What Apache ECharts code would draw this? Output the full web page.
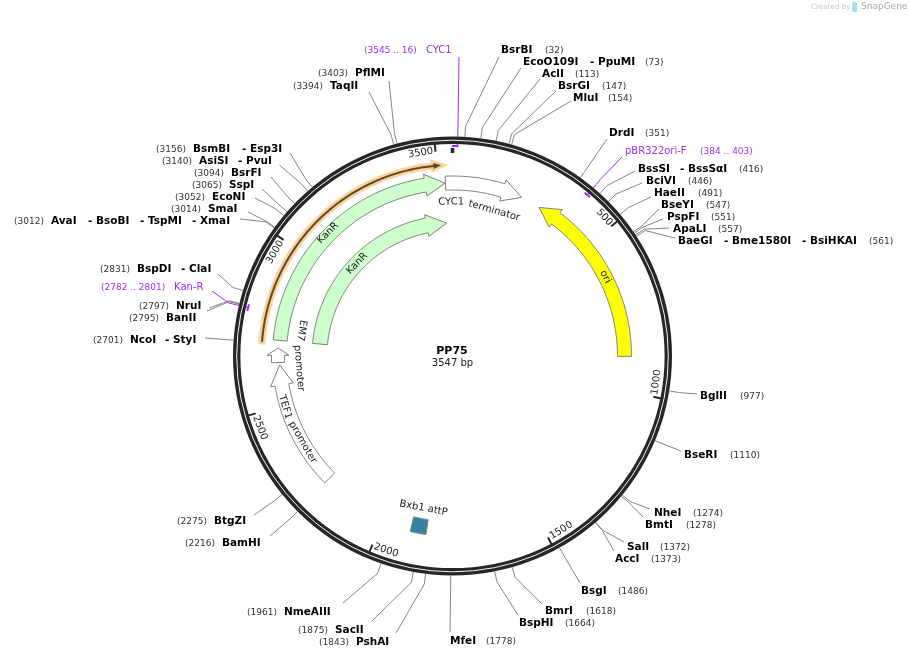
<!DOCTYPE html>
<html>
<head>
<meta charset="utf-8">
<title>PP75</title>
<script src="https://cdn.jsdelivr.net/npm/echarts@6/dist/echarts.min.js"></script>
<style>
html, body { margin: 0; padding: 0; background: #fff; }
#main { width: 909px; height: 658px; }
</style>
</head>
<body>
<div id="main"></div>
<script>
var plasmidName = 'PP75';
var plasmidLength = 3547;

// restriction sites
var siteNames = [
    ['BsrBI'], ['EcoO109I', 'PpuMI'], ['AclI'], ['BsrGI'], ['MluI'], ['DrdI'],
    ['BssSI', 'BssSαI'], ['BciVI'], ['HaeII'], ['BseYI'], ['PspFI'], ['ApaLI'],
    ['BaeGI', 'Bme1580I', 'BsiHKAI'], ['BglII'], ['BseRI'], ['NheI'], ['BmtI'],
    ['SalI'], ['AccI'], ['BsgI'], ['BmrI'], ['BspHI'], ['MfeI'], ['PshAI'],
    ['SacII'], ['NmeAIII'], ['BamHI'], ['BtgZI'], ['NcoI', 'StyI'], ['BanII'],
    ['NruI'], ['BspDI', 'ClaI'], ['AvaI', 'BsoBI', 'TspMI', 'XmaI'], ['SmaI'],
    ['EcoNI'], ['SspI'], ['BsrFI'], ['AsiSI', 'PvuI'], ['BsmBI', 'Esp3I'],
    ['TaqII'], ['PflMI']
];
var sitePositions = [
    32, 73, 113, 147, 154, 351, 416, 446, 491, 547, 551, 557, 561, 977, 1110,
    1274, 1278, 1372, 1373, 1486, 1618, 1664, 1778, 1843, 1875, 1961, 2216,
    2275, 2701, 2795, 2797, 2831, 3012, 3014, 3052, 3065, 3094, 3140, 3156,
    3394, 3403
];

// primers
var primerNames = ['CYC1', 'pBR322ori-F', 'Kan-R'];
var primerStarts = [3545, 384, 2782];
var primerEnds = [16, 403, 2801];

// features
var featureNames = ['ori', 'CYC1 terminator', 'KanR', 'KanR', 'EM7 promoter', 'TEF1 promoter', 'Bxb1 attP'];
var featureStarts = [298, 3524, 2711, 2711, 2639, 2219, 1857];
var featureEnds = [888, 232, 3523, 3522, 2686, 2631, 1907];
var featureStrands = [-1, 1, 1, 1, 1, 1, 0];

// highlighted primer arrow
var highlightStart = 2702;
var highlightEnd = 3514;

// ruler
var tickPositions = [500, 1000, 1500, 2000, 2500, 3000, 3500];
var tickLabels = ['500', '1000', '1500', '2000', '2500', '3000', '3500'];

// ---- layout only below here ----
var center = [452.5, 356];
var ringOuter = 219.5;
var elbowR = 230;
var fontName = '"DejaVu Sans", sans-serif';
var purple = '#a32cf2';
var lineGrey = '#858585';

// y, x of "(pos)", x of each name, leader end x, y
var siteLayout = [
    [50, 545, [501], 499, 57], [62, 645, [523, 590], 521, 68], [74, 575, [542], 540, 79],
    [86, 602, [558], 556, 91], [98, 608, [573], 571, 101], [133, 645, [609], 607, 139],
    [169, 739, [638, 680], 635, 171], [181, 688, [646], 642, 183], [193, 698, [654], 651, 197],
    [205, 706, [661], 659, 209], [217, 711, [667], 663, 219], [229, 718, [673], 669, 228],
    [241, 869, [678, 724, 802], 675, 238], [396, 740, [700], 697, 394], [455, 730, [684], 681, 451],
    [513, 693, [654], 650, 509], [525, 686, [645], 643, 517], [547, 660, [627], 624, 542],
    [559, 651, [615], 614, 551], [591, 618, [581], 580, 583], [611, 586, [545], 542, 604],
    [623, 565, [519], 518, 615], [641, 486, [450], 450, 632], [642, 319, [356], 396, 633],
    [630, 298, [335], 372, 621], [612, 247, [284], 343, 603], [543, 185, [222], 270, 536],
    [521, 177, [214], 254, 515], [340, 93, [130, 165], 205, 338], [318, 129, [166], 207, 311],
    [306, 139, [176], 209, 308], [269, 100, [137, 181], 218, 274],
    [221, 14, [51, 88, 140, 192], 240, 219], [209, 171, [208], 248, 212], [197, 175, [212], 255, 198],
    [185, 192, [229], 262, 189], [173, 194, [231], 271, 177], [161, 162, [199, 238], 279.5, 165],
    [149, 156, [193, 242], 290, 153], [85.5, 293, [330], 369, 92], [73, 318, [355], 389, 81]
];
// y of name, y of range, x of range, x of name, leader end x, y, leader shift in bp
var primerLayout = [
    [50, 51, 364, 426, 459, 57, 6.5],
    [151, 152, 700, 625, 622, 157, 0],
    [287, 288, 101, 174, 212, 291, 0]
];
// mid radius, body width, head width, fill
var featureStyle = [
    [172, 14, 22, '#ffff00'],
    [173, 14, 22, '#ffffff'],
    [173, 14, 22, '#ccffcc'],
    [133, 15, 22, '#ccffcc'],
    [174.5, 13, 22, '#ffffff'],
    [173, 14, 23, '#ffffff'],
    [173, 15, 15, '#31849b']
];
// words on the features: text, radius, position, flip
var arcWords = [
    ['ori', 172, 617, false],
    ['CYC1', 154, 3542, false],
    ['terminator', 151, 158, false],
    ['KanR', 175, 3100, false],
    ['KanR', 133, 3095, false],
    ['EM7', 153, 2755, true],
    ['promoter', 154, 2616, true],
    ['TEF1', 175, 2493, true],
    ['promoter', 173, 2365, true],
    ['Bxb1 attP', 155, 1880, true]
];

var chart = echarts.init(document.getElementById('main'));

function toRad(bp) { return bp / plasmidLength * Math.PI * 2; }

// rotation for text that follows the circle at this position
function arcRotation(bp, flip) {
    var a = toRad(bp);
    return flip ? Math.PI - a : -a;
}

function arcPoints(api, r, from, to) {
    var pts = [];
    var n = Math.max(2, Math.ceil(Math.abs(to - from) / 6));
    for (var i = 0; i <= n; i++) {
        var c = api.coord([r, from + (to - from) * i / n]);
        pts.push([c[0], c[1]]);
    }
    return pts;
}

function xy(api, r, bp) {
    var c = api.coord([r, bp]);
    return [c[0], c[1]];
}

// arrow outline along the circle, head at "to"
function arrowPoints(api, r, bodyW, headW, from, to, headPx) {
    var sign = to > from ? 1 : -1;
    var headBp = headPx / r / (Math.PI * 2) * plasmidLength;
    var neck = to - sign * headBp;
    var pts = arcPoints(api, r + bodyW / 2, from, neck);
    pts.push(xy(api, r + headW / 2, neck));
    pts.push(xy(api, r, to));
    pts.push(xy(api, r - headW / 2, neck));
    return pts.concat(arcPoints(api, r - bodyW / 2, neck, from));
}

function label(x, y, text, size, weight, fill, align, rotation) {
    return {
        type: 'text',
        x: x,
        y: y,
        rotation: rotation || 0,
        style: {
            text: text,
            fontFamily: fontName,
            fontSize: size,
            fontWeight: weight,
            fill: fill,
            align: align || 'left',
            verticalAlign: 'middle'
        }
    };
}

function renderRing(params, api) {
    var cs = params.coordSys;
    return {
        type: 'group',
        children: [
            { type: 'circle', shape: { cx: cs.cx, cy: cs.cy, r: 215.8 }, style: { fill: 'none', stroke: '#262626', lineWidth: 7.4 } },
            { type: 'circle', shape: { cx: cs.cx, cy: cs.cy, r: 215.8 }, style: { fill: 'none', stroke: '#f4f4f4', lineWidth: 1 } }
        ]
    };
}

function renderSite(params, api) {
    var i = params.dataIndex;
    var bp = api.value(1);
    var lay = siteLayout[i];
    var kids = [{
        type: 'polyline',
        shape: { points: [xy(api, ringOuter, bp), xy(api, elbowR, bp), [lay[3], lay[4]]] },
        style: { fill: 'none', stroke: lineGrey, lineWidth: 1 }
    }];
    siteNames[i].forEach(function (name, k) {
        kids.push(label(lay[2][k], lay[0] + 0.5, (k > 0 ? '- ' : '') + name, 10.5, 'bold', '#000'));
    });
    kids.push(label(lay[1], lay[0] + 1, '(' + sitePositions[i] + ')', 9, 'normal', '#333'));
    return { type: 'group', children: kids };
}

function renderPrimer(params, api) {
    var i = params.dataIndex;
    var s = primerStarts[i], e = primerEnds[i];
    if (e < s) e += plasmidLength;
    var lay = primerLayout[i];
    var mid = (s + e) / 2 + lay[6];
    return {
        type: 'group',
        children: [
            {
                type: 'polyline',
                shape: { points: [xy(api, 210, mid), xy(api, elbowR, mid), [lay[4], lay[5]]] },
                style: { fill: 'none', stroke: purple, lineWidth: 1 }
            },
            {
                type: 'polyline',
                shape: { points: arcPoints(api, 210, s, e) },
                style: { fill: 'none', stroke: purple, lineWidth: 2 }
            },
            label(lay[3], lay[0], primerNames[i], 10, 'normal', purple),
            label(lay[2], lay[1], '(' + primerStarts[i] + ' .. ' + primerEnds[i] + ')', 9, 'normal', purple)
        ]
    };
}

function renderFeature(params, api) {
    var i = params.dataIndex;
    var st = featureStyle[i];
    var s = featureStarts[i], e = featureEnds[i];
    if (e < s) e += plasmidLength;
    var strand = featureStrands[i];
    var pts;
    if (strand === 0) {
        pts = arcPoints(api, st[0] + st[1] / 2, s, e).concat(arcPoints(api, st[0] - st[1] / 2, e, s));
    } else {
        var arcPx = (e - s) / plasmidLength * Math.PI * 2 * st[0];
        var headPx = Math.min(20, arcPx / 2);
        pts = strand > 0
            ? arrowPoints(api, st[0], st[1], st[2], s, e, headPx)
            : arrowPoints(api, st[0], st[1], st[2], e, s, headPx);
    }
    return {
        type: 'polygon',
        shape: { points: pts },
        style: { fill: st[3], stroke: '#7f7f7f', lineWidth: 1 }
    };
}

function renderHighlight(params, api) {
    var pts = arrowPoints(api, 191, 2, 6, highlightStart, highlightEnd, 8);
    return {
        type: 'group',
        children: [
            { type: 'polygon', shape: { points: pts }, style: { fill: 'none', stroke: 'rgba(250,178,80,0.6)', lineWidth: 5, lineJoin: 'miter' } },
            { type: 'polygon', shape: { points: pts }, style: { fill: '#5b4a30', stroke: 'none' } }
        ]
    };
}

function renderTick(params, api) {
    var i = params.dataIndex;
    var bp = tickPositions[i];
    var textBp = bp - (tickLabels[i].length > 3 ? 41 : 31);
    var p = xy(api, 205.5, textBp);
    var bottomHalf = textBp > plasmidLength / 4 + 60 && textBp < plasmidLength * 0.75;
    return {
        type: 'group',
        children: [
            { type: 'polyline', shape: { points: [xy(api, 205, bp), xy(api, 213, bp)] }, style: { stroke: '#262626', lineWidth: 2 } },
            label(p[0], p[1], tickLabels[i], 10, 'normal', '#222', 'center', arcRotation(textBp, bottomHalf))
        ]
    };
}

function renderOrigin(params, api) {
    return {
        type: 'polyline',
        shape: { points: [xy(api, 203, 0), xy(api, 208, 0)] },
        style: { stroke: '#262626', lineWidth: 3.5 }
    };
}

function renderWord(params, api) {
    var w = arcWords[params.dataIndex];
    var p = xy(api, w[1], w[2]);
    return label(p[0], p[1], w[0], 10, 'normal', '#222', 'center', arcRotation(w[2], w[3]));
}

function polarCustom(renderItem, data, z) {
    return {
        type: 'custom',
        coordinateSystem: 'polar',
        renderItem: renderItem,
        encode: { radius: 0, angle: 1 },
        silent: true,
        z: z,
        data: data
    };
}

var option = {
    animation: false,
    backgroundColor: '#ffffff',
    polar: { center: center, radius: [0, 240] },
    radiusAxis: { type: 'value', min: 0, max: 240, show: false },
    angleAxis: { type: 'value', min: 0, max: plasmidLength, startAngle: 90, clockwise: true, show: false },
    series: [
        polarCustom(renderSite, sitePositions.map(function (p) { return [ringOuter, p]; }), 2),
        polarCustom(renderPrimer, primerStarts.map(function (p) { return [210, p]; }), 2),
        polarCustom(renderRing, [[ringOuter, 0]], 3),
        polarCustom(renderTick, tickPositions.map(function (p) { return [209, p]; }), 4),
        polarCustom(renderOrigin, [[205, 0]], 4),
        polarCustom(renderHighlight, [[191, highlightStart]], 4),
        polarCustom(renderFeature, featureStarts.map(function (p, i) { return [featureStyle[i][0], p]; }), 4),
        polarCustom(renderWord, arcWords.map(function (w) { return [w[1], w[2]]; }), 5)
    ],
    graphic: [
        { type: 'text', x: 452, y: 351.5, style: { text: plasmidName, fontFamily: fontName, fontSize: 11, fontWeight: 'bold', fill: '#000', align: 'center', verticalAlign: 'middle' } },
        { type: 'text', x: 452.5, y: 363.5, style: { text: plasmidLength + ' bp', fontFamily: fontName, fontSize: 10, fill: '#222', align: 'center', verticalAlign: 'middle' } },
        { type: 'text', x: 811, y: 7, style: { text: 'Created by', fontFamily: fontName, fontSize: 7.2, fill: '#c4c4c4', align: 'left', verticalAlign: 'middle' } },
        { type: 'rect', shape: { x: 852, y: 2, width: 5, height: 10, r: 2 }, style: { fill: '#a8dcf2' } },
        { type: 'text', x: 861, y: 7, style: { text: 'SnapGene', fontFamily: fontName, fontSize: 9, fill: '#a6a6a6', align: 'left', verticalAlign: 'middle' } }
    ]
};

chart.setOption(option);
</script>
</body>
</html>
